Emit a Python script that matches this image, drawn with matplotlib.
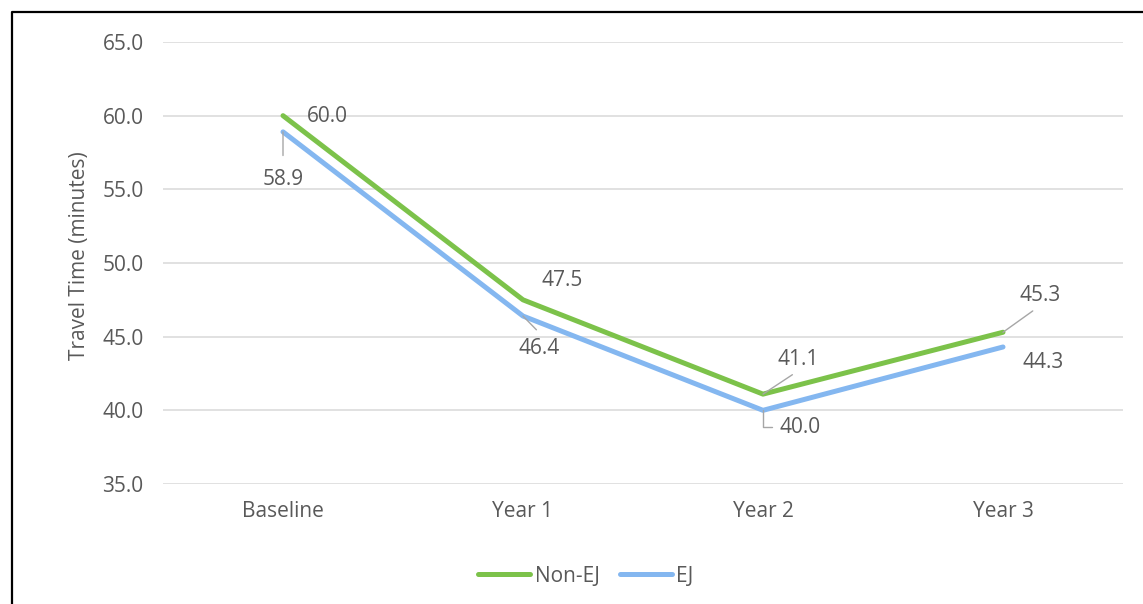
import matplotlib
matplotlib.use("Agg")
import matplotlib.pyplot as plt
from matplotlib.lines import Line2D

# Average travel time by period
periods = ["Baseline", "Year 1", "Year 2", "Year 3"]
non_ej = [60.0, 47.5, 41.1, 45.3]
ej = [58.9, 46.4, 40.0, 44.3]
y_ticks = [35.0, 40.0, 45.0, 50.0, 55.0, 60.0, 65.0]

GREEN = "#7CC24A"
BLUE = "#84B7F0"
TEXT = "#595959"
GRID = "#DCDCDC"
LEADER = "#A6A6A6"
FS = 15

plt.rcParams["font.family"] = ["Open Sans", "DejaVu Sans"]

W, H = 1143, 604
fig = plt.figure(figsize=(W / 100, H / 100), dpi=100)
ax = fig.add_axes([163 / W, 1 - 484 / H, 960 / W, 442 / H])

x = list(range(len(periods)))
ax.plot(x, non_ej, color=GREEN, lw=3.6, solid_capstyle="round",
        solid_joinstyle="round", label="Non-EJ", zorder=3)
ax.plot(x, ej, color=BLUE, lw=3.6, solid_capstyle="round",
        solid_joinstyle="round", label="EJ", zorder=3)

ax.set_xlim(-0.5, len(periods) - 0.5)
ax.set_ylim(35, 65)
ax.set_yticks(y_ticks)
ax.set_yticklabels([f"{v:.1f}" for v in y_ticks])
ax.set_xticks(x)
ax.set_xticklabels(periods)
ax.tick_params(axis="both", length=0, labelsize=FS, labelcolor=TEXT)
ax.tick_params(axis="y", pad=14)
ax.tick_params(axis="x", pad=12)
ax.grid(axis="y", color=GRID, lw=1.2)
ax.set_axisbelow(True)
for s in ax.spines.values():
    s.set_visible(False)

fig.text(80 / W, 1 - 256 / H, "Travel Time (minutes)", rotation=90,
         ha="center", va="center", fontsize=FS, color=TEXT)

# Data labels: value index, pixel offset of the text, optional leader line
def label(values, i, dx, dy, leader=None, gap=1):
    kw = dict(xy=(i, values[i]), xytext=(dx, dy), textcoords="offset pixels",
              ha="center", va="center", fontsize=FS, color=TEXT, zorder=4)
    if leader is not None:
        kw["arrowprops"] = dict(arrowstyle="-", color=LEADER, lw=1,
                                shrinkA=gap, shrinkB=0, **leader)
    ax.annotate(f"{values[i]:.1f}", **kw)

label(non_ej, 0, 44, -1)
label(ej, 0, 0, -48, dict(relpos=(0.5, 1.0)), gap=8)
label(non_ej, 1, 39, 19)
label(ej, 1, 16, -32, dict(relpos=(0.62, 1.0)), gap=5)
label(non_ej, 2, 35, 35, dict(relpos=(0.55, 0.0)), gap=3)
label(ej, 2, 37, -17, dict(relpos=(0.0, 0.5),
                           connectionstyle="angle,angleA=0,angleB=90,rad=0"), gap=3)
label(non_ej, 3, 37, 37, dict(relpos=(0.5, 0.0)), gap=3)
label(ej, 3, 40, -16)

fig.legend(handles=[Line2D([], [], color=GREEN, lw=3.6, solid_capstyle="round"),
                    Line2D([], [], color=BLUE, lw=3.6, solid_capstyle="round")],
           labels=["Non-EJ", "EJ"], loc="center", ncol=2, frameon=False,
           bbox_to_anchor=(586 / W, 1 - 576 / H), fontsize=FS,
           labelcolor=TEXT, handlelength=2.5, handletextpad=0.2,
           columnspacing=1.0)

# Chart frame (left and top edges)
fig.add_artist(Line2D([11.5 / W, 11.5 / W, 1.0], [0.0, 1 - 11.5 / H, 1 - 11.5 / H],
                      transform=fig.transFigure, color="black", lw=1.6))

fig.savefig("out.png", dpi=100, facecolor="white")
